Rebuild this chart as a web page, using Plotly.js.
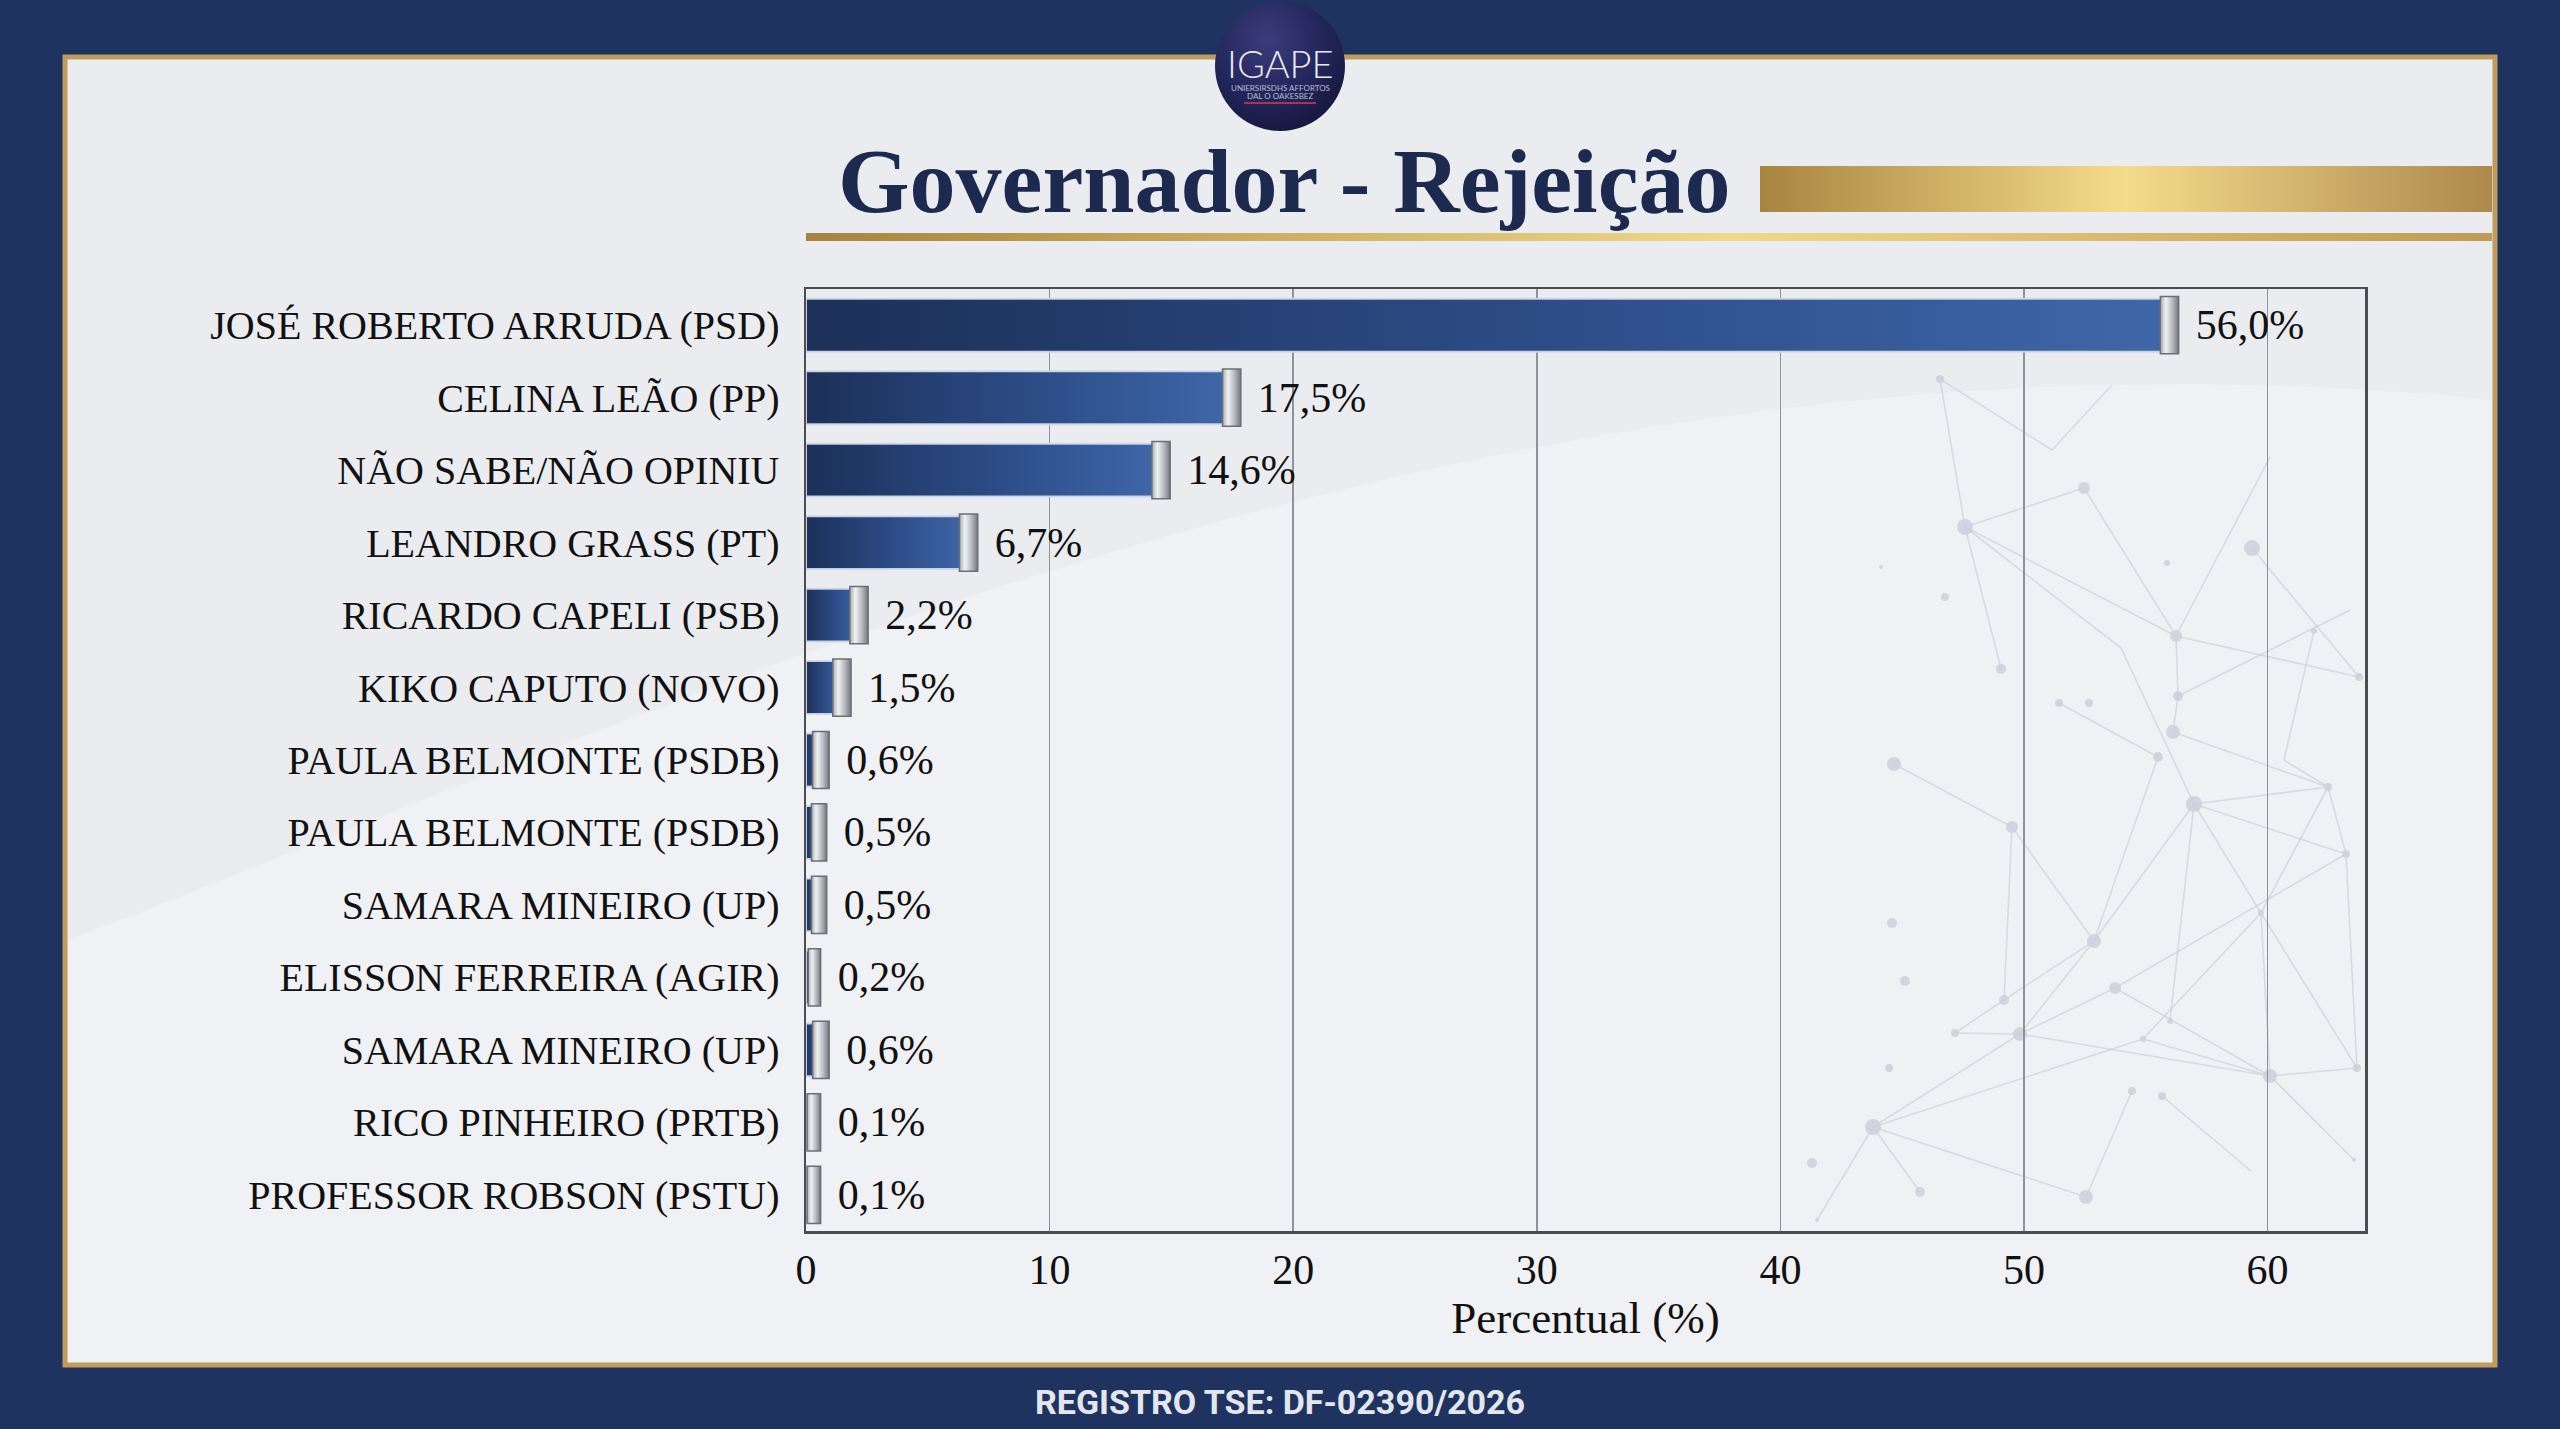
<!DOCTYPE html>
<html>
<head>
<meta charset="utf-8">
<script src="https://cdn.plot.ly/plotly-3.0.1.min.js"></script>
<style>
html,body{margin:0;padding:0;background:#1f3360;overflow:hidden}
#chart{width:2560px;height:1429px}
</style>
</head>
<body>
<div id="chart"></div>
<script>
// ---- data ----
const categories = [
  'JOSÉ ROBERTO ARRUDA (PSD)',
  'CELINA LEÃO (PP)',
  'NÃO SABE/NÃO OPINIU',
  'LEANDRO GRASS (PT)',
  'RICARDO CAPELI (PSB)',
  'KIKO CAPUTO (NOVO)',
  'PAULA BELMONTE (PSDB)',
  'PAULA BELMONTE (PSDB)',
  'SAMARA MINEIRO (UP)',
  'ELISSON FERREIRA (AGIR)',
  'SAMARA MINEIRO (UP)',
  'RICO PINHEIRO (PRTB)',
  'PROFESSOR ROBSON (PSTU)'
];
const values = [56.0, 17.5, 14.6, 6.7, 2.2, 1.5, 0.6, 0.5, 0.5, 0.2, 0.6, 0.1, 0.1];
const xTickVals = [0, 10, 20, 30, 40, 50, 60];
const titleText = 'Governador - Rejeição';
const axisTitleText = 'Percentual (%)';
const footerText = 'REGISTRO TSE: DF-02390/2026';
const logoText = 'IGAPE';
const logoSub1 = 'UNIERSIRSDHS AFFORTOS';
const logoSub2 = 'DAL O OAKESBEZ';

// ---- geometry helpers (pixel -> paper) ----
const L = 806, R = 2365, T = 289, B = 1231;
const PW = R - L, PH = B - T;
const fx = x => (x - L) / PW;
const fy = y => (B - y) / PH;

const positions = categories.map((c, i) => i);
const labels = values.map(v => '\u00a0\u200a' + v.toFixed(1).replace('.', ',') + '%');
// silver end-cap of each bar (with a minimum visible size)
const capLen = 0.75, capOver = 0.35, capMinEnd = 0.6;
const capEnd = values.map(v => Math.max(v + capOver, capMinEnd));
const capBase = values.map((v, i) => Math.max(capEnd[i] - capLen, v * 0.45));
const capSize = values.map((v, i) => capEnd[i] - capBase[i]);

const serif = 'Liberation Serif, Times New Roman, serif';

const barTrace = {
  type: 'bar', orientation: 'h',
  y: positions, x: values, width: 0.73,
  marker: {color: '#2b4b86', line: {color: 'rgba(206,216,233,0.95)', width: 2}},
  hoverinfo: 'skip'
};
const capTrace = {
  type: 'bar', orientation: 'h',
  y: positions, x: capSize, base: capBase, width: 0.79,
  marker: {color: '#c4c6ca', line: {color: '#6b6e75', width: 1.5}},
  text: labels, textposition: 'outside', constraintext: 'none', cliponaxis: false,
  textfont: {family: serif, size: 42, color: '#111111'},
  hoverinfo: 'skip'
};

// ---- background decoration (pixel positions of a faint network) ----
const netNodes = [
  [1940,379,4],[1965,527,8],[2084,488,6],[2052,450,0],[2112,385,0],[2001,669,5],[2176,636,6],
  [2252,548,8],[2270,457,0],[2178,696,5],[2173,732,7],[2121,648,0],[2158,757,5],[2194,804,8],
  [2059,703,4],[2089,703,4],[1894,764,7],[2012,827,6],[2094,941,7],[2004,1000,5],[2020,1034,7],
  [1955,1033,4],[1873,1127,8],[2115,988,6],[2261,913,3],[2270,1076,7],[2328,787,4],[2346,854,4],
  [2357,1068,4],[2359,677,4],[2143,1039,3],[2170,1021,3],[2086,1197,7],[1920,1192,5],[1817,1220,2],
  [2132,1091,4],[2162,1096,4],[2251,1171,0],[2354,1160,2],[2284,760,0],[2314,631,3],[2350,610,0],
  [1945,597,4],[1892,923,5],[1905,981,5],[1889,1068,4],[1812,1163,5],[2167,563,3],[1881,567,2]
];
const netEdges = [
  [0,1],[0,3],[3,4],[1,2],[1,5],[1,11],[11,13],[1,6],[2,6],[6,8],[6,9],[9,10],[6,29],[9,41],
  [7,29],[14,12],[10,26],[12,18],[13,18],[13,26],[13,27],[13,24],[13,31],[24,28],[24,25],[24,30],
  [23,27],[26,27],[26,39],[39,40],[26,24],[27,28],[16,17],[17,19],[17,18],[18,19],[19,21],[21,20],
  [18,20],[20,22],[20,23],[20,25],[22,30],[22,32],[22,33],[22,34],[32,35],[23,25],[36,37],[25,28],
  [25,38],[30,25]
];

function wavePath() {
  const p = (x, y) => fx(x).toFixed(4) + ',' + fy(y).toFixed(4);
  return 'M' + p(68, 940) + ' C' + p(700, 700) + ' ' + p(1500, 300) + ' ' + p(2492, 400) +
         ' L' + p(2492, 1362) + ' L' + p(68, 1362) + ' Z';
}

const shapes = [
  {type: 'rect', xref: 'paper', yref: 'paper', x0: fx(65), x1: fx(2495), y0: fy(1365), y1: fy(57),
   fillcolor: '#eaecf0', line: {color: '#bf9c5c', width: 5}, layer: 'below'},
  {type: 'path', xref: 'paper', yref: 'paper', path: wavePath(),
   fillcolor: 'rgba(255,255,255,0.28)', line: {width: 0}, layer: 'below'},
  {type: 'rect', xref: 'paper', yref: 'paper', x0: fx(1760), x1: fx(2492), y0: fy(212), y1: fy(166),
   fillcolor: '#d4b46a', line: {width: 0}, layer: 'below'},
  {type: 'rect', xref: 'paper', yref: 'paper', x0: fx(806), x1: fx(2492), y0: fy(241), y1: fy(233),
   fillcolor: '#cfae66', line: {width: 0}, layer: 'below'},
  {type: 'circle', xref: 'paper', yref: 'paper', x0: fx(1215), x1: fx(1345), y0: fy(131), y1: fy(1),
   fillcolor: '#22255a', line: {width: 0}, layer: 'above'},
  {type: 'line', xref: 'paper', yref: 'paper', x0: fx(1244), x1: fx(1316), y0: fy(103), y1: fy(103),
   line: {color: '#b3304c', width: 2}, layer: 'above'}
];
netEdges.forEach(e => {
  const a = netNodes[e[0]], b = netNodes[e[1]];
  shapes.push({type: 'line', xref: 'paper', yref: 'paper', x0: fx(a[0]), y0: fy(a[1]), x1: fx(b[0]), y1: fy(b[1]),
    line: {color: 'rgba(200,204,214,0.6)', width: 1.6}, layer: 'below'});
});
netNodes.forEach(n => {
  if (!n[2]) return;
  shapes.push({type: 'circle', xref: 'paper', yref: 'paper', x0: fx(n[0] - n[2]), x1: fx(n[0] + n[2]),
    y0: fy(n[1] + n[2]), y1: fy(n[1] - n[2]), fillcolor: 'rgba(204,208,219,0.85)', line: {width: 0}, layer: 'below'});
});

const annotations = [
  {text: titleText, xref: 'paper', yref: 'paper', x: fx(1284), y: fy(181), xanchor: 'center', yanchor: 'middle',
   showarrow: false, font: {family: serif, size: 92, color: '#1b2a4e', weight: 700}},
  {text: logoText, xref: 'paper', yref: 'paper', x: fx(1280), y: fy(63), xanchor: 'center', yanchor: 'middle',
   showarrow: false, font: {family: 'Lato, sans-serif', size: 38, color: '#e9e9f1', weight: 300}},
  {text: logoSub1, xref: 'paper', yref: 'paper', x: fx(1280), y: fy(88), xanchor: 'center', yanchor: 'middle',
   showarrow: false, font: {family: 'Lato, sans-serif', size: 8, color: '#b9bdd0'}},
  {text: logoSub2, xref: 'paper', yref: 'paper', x: fx(1280), y: fy(96), xanchor: 'center', yanchor: 'middle',
   showarrow: false, font: {family: 'Lato, sans-serif', size: 8, color: '#b9bdd0'}},
  {text: footerText, xref: 'paper', yref: 'paper', x: fx(1280), y: fy(1402), xanchor: 'center', yanchor: 'middle',
   showarrow: false, font: {family: 'Roboto, sans-serif', size: 34, color: '#e3e6ed', weight: 700}}
];

const layout = {
  width: 2560, height: 1429,
  margin: {l: L, r: 2560 - R, t: T, b: 1429 - B, pad: 0},
  paper_bgcolor: '#1f3360', plot_bgcolor: 'rgba(0,0,0,0)',
  barmode: 'overlay', showlegend: false,
  xaxis: {
    range: [0, 64], tickvals: xTickVals, showgrid: true, gridcolor: '#8f9298', gridwidth: 1.5,
    showline: true, mirror: true, linecolor: '#4b4d52', linewidth: 2.5, zeroline: false,
    ticks: '', ticklen: 0, ticklabelstandoff: 0,
    tickfont: {family: serif, size: 42, color: '#111111'},
    title: {text: axisTitleText, font: {family: serif, size: 45, color: '#111111'}, standoff: 2},
    fixedrange: true
  },
  yaxis: {
    range: [12.5, -0.5], tickvals: positions, ticktext: categories, showgrid: false,
    showline: true, mirror: true, linecolor: '#4b4d52', linewidth: 2.5, zeroline: false,
    ticks: '', ticklen: 0, ticklabelstandoff: 16,
    tickfont: {family: serif, size: 40, color: '#111111'},
    fixedrange: true
  },
  shapes: shapes,
  annotations: annotations
};

function addGradients(gd) {
  const svg = gd.querySelector('svg.main-svg');
  const NS = 'http://www.w3.org/2000/svg';
  let defs = svg.querySelector('defs');
  if (!defs) { defs = document.createElementNS(NS, 'defs'); svg.insertBefore(defs, svg.firstChild); }
  function grad(id, stops, vertical, radial) {
    const g = document.createElementNS(NS, radial ? 'radialGradient' : 'linearGradient');
    g.setAttribute('id', id);
    if (radial) { g.setAttribute('cx', '0.4'); g.setAttribute('cy', '0.3'); g.setAttribute('r', '0.75'); }
    else {
      g.setAttribute('x1', '0'); g.setAttribute('y1', '0');
      g.setAttribute('x2', vertical ? '0' : '1'); g.setAttribute('y2', vertical ? '1' : '0');
    }
    stops.forEach(s => {
      const st = document.createElementNS(NS, 'stop');
      st.setAttribute('offset', s[0]); st.setAttribute('stop-color', s[1]);
      g.appendChild(st);
    });
    defs.appendChild(g);
  }
  grad('gBlue', [[0, '#1c3058'], [0.55, '#2d4d88'], [1, '#3f67a8']], false);
  grad('gCap', [[0, '#a9acb2'], [0.3, '#f1f1f2'], [0.65, '#b7babf'], [1, '#74777d']], false);
  grad('gGoldBar', [[0, '#a8853f'], [0.5, '#f5db8c'], [1, '#ad894b']], false);
  grad('gGoldLine', [[0, '#a6843f'], [0.55, '#f1d88a'], [1, '#c09a55']], false);
  grad('gLogo', [[0, '#3a3d7a'], [0.6, '#22255a'], [1, '#15173d']], false, true);

  const traces = gd.querySelectorAll('.barlayer .trace.bars');
  if (traces[0]) traces[0].querySelectorAll('path').forEach(p => p.style.fill = 'url(#gBlue)');
  if (traces[1]) traces[1].querySelectorAll('path').forEach(p => p.style.fill = 'url(#gCap)');
  const map = {'2': 'url(#gGoldBar)', '3': 'url(#gGoldLine)', '4': 'url(#gLogo)'};
  gd.querySelectorAll('.shapelayer path').forEach(p => {
    const idx = p.getAttribute('data-index');
    if (map[idx]) p.style.fill = map[idx];
  });
}

const gd = document.getElementById('chart');
Plotly.newPlot(gd, [barTrace, capTrace], layout, {displayModeBar: false, staticPlot: true})
  .then(() => addGradients(gd));
</script>
</body>
</html>
